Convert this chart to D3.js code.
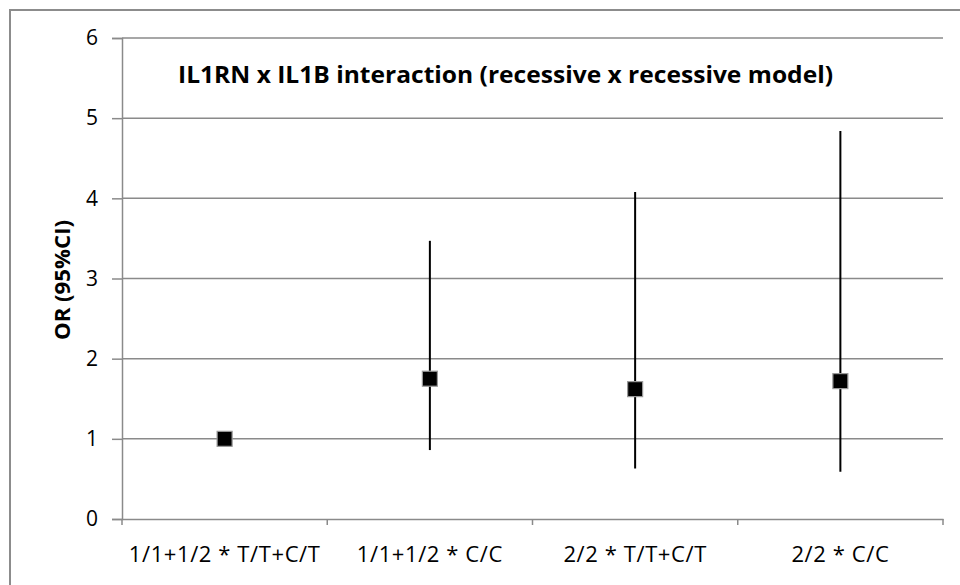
<!DOCTYPE html>
<html>
<head>
<meta charset="utf-8">
<script src="https://cdn.jsdelivr.net/npm/d3@7"></script>
<style>
  html, body { margin: 0; padding: 0; background: #fff; }
  svg { display: block; }
</style>
</head>
<body>
<svg id="chart" width="960" height="585"></svg>
<script>
const categories = ["1/1+1/2 * T/T+C/T", "1/1+1/2 * C/C", "2/2 * T/T+C/T", "2/2 * C/C"];
const orValues = [1.00, 1.75, 1.62, 1.72];
const ciLower = [null, 0.86, 0.63, 0.59];
const ciUpper = [null, 3.47, 4.08, 4.84];
const yTicks = [0, 1, 2, 3, 4, 5, 6];
const titleText = "IL1RN x IL1B interaction (recessive x recessive model)";
const yLabel = "OR (95%CI)";

const svg = d3.select("#chart");
const gridColor = "#8a8a8a";
const font = "'Open Sans', 'Noto Sans', sans-serif";

// outer chart border
svg.append("rect")
  .attr("x", 10).attr("y", 10)
  .attr("width", 960).attr("height", 600)
  .attr("fill", "#fff")
  .attr("stroke", "#8c8c8c").attr("stroke-width", 2);

const plot = { left: 122, right: 943, top: 38, bottom: 519 };

const x = d3.scaleBand().domain(categories).range([plot.left, plot.right]).padding(0);
const y = d3.scaleLinear().domain([0, 6]).range([plot.bottom, plot.top]);

// gridlines
svg.append("g").selectAll("line")
  .data(yTicks.filter(d => d > 0))
  .join("line")
  .attr("x1", plot.left).attr("x2", plot.right)
  .attr("y1", d => y(d)).attr("y2", d => y(d))
  .attr("stroke", gridColor).attr("stroke-width", 1.5);

// y axis
const yAxis = svg.append("g")
  .attr("transform", `translate(${plot.left},0)`)
  .call(d3.axisLeft(y).tickValues(yTicks).tickFormat(d3.format("d")).tickSize(10).tickPadding(14));
yAxis.select(".domain").attr("stroke", gridColor).attr("stroke-width", 1.5);
yAxis.selectAll(".tick line").attr("stroke", gridColor).attr("stroke-width", 1.5);
yAxis.selectAll(".tick text")
  .attr("font-family", font).attr("font-size", 21).attr("fill", "#000");

// x axis
const xEdges = categories.map(c => x(c)).concat([plot.right]);
const xAxis = svg.append("g")
  .attr("transform", `translate(0,${plot.bottom})`)
  .call(d3.axisBottom(x).tickSize(0).tickPadding(27));
xAxis.select(".domain").attr("stroke", gridColor).attr("stroke-width", 1.5);
xAxis.selectAll(".tick text")
  .attr("font-family", font).attr("font-size", 22).attr("letter-spacing", 0.6).attr("fill", "#000");
xAxis.selectAll(".edge").data(xEdges).join("line")
  .attr("class", "edge")
  .attr("x1", d => d).attr("x2", d => d)
  .attr("y1", 0).attr("y2", 6)
  .attr("stroke", gridColor).attr("stroke-width", 1.5);

// error bars
const data = categories.map((c, i) => ({ c, v: orValues[i], lo: ciLower[i], hi: ciUpper[i] }));
svg.append("g").selectAll("line")
  .data(data.filter(d => d.lo != null))
  .join("line")
  .attr("x1", d => x(d.c) + x.bandwidth() / 2)
  .attr("x2", d => x(d.c) + x.bandwidth() / 2)
  .attr("y1", d => y(d.lo)).attr("y2", d => y(d.hi))
  .attr("stroke", "#000").attr("stroke-width", 2);

// markers
const ms = 15;
svg.append("g").selectAll("rect")
  .data(data)
  .join("rect")
  .attr("x", d => x(d.c) + x.bandwidth() / 2 - ms / 2)
  .attr("y", d => y(d.v) - ms / 2)
  .attr("width", ms).attr("height", ms)
  .attr("fill", "#000")
  .attr("stroke", "#9a9a9a").attr("stroke-width", 1.2);

// title
svg.append("text")
  .attr("x", 178).attr("y", 83)
  .attr("font-family", font).attr("font-weight", "bold").attr("font-size", 24)
  .attr("textLength", 655).attr("lengthAdjust", "spacingAndGlyphs")
  .attr("fill", "#000")
  .text(titleText);

// y label
svg.append("text")
  .attr("transform", "translate(70,280) rotate(-90)")
  .attr("text-anchor", "middle")
  .attr("font-family", font).attr("font-weight", "bold").attr("font-size", 21)
  .attr("textLength", 120).attr("lengthAdjust", "spacingAndGlyphs")
  .attr("fill", "#000")
  .text(yLabel);
</script>
</body>
</html>
